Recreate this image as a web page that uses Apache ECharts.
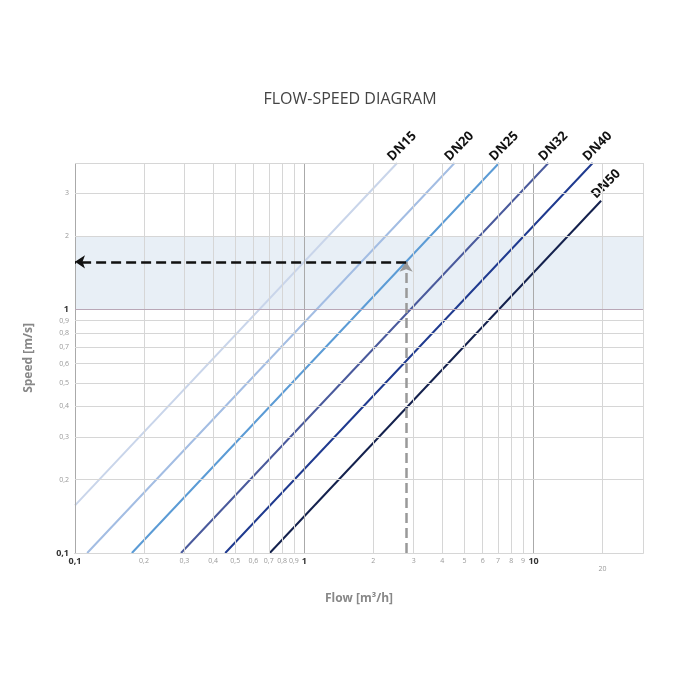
<!DOCTYPE html>
<html><head><meta charset="utf-8">
<script src="https://cdn.jsdelivr.net/npm/echarts@6/dist/echarts.min.js"></script>
<style>html,body{margin:0;background:#fff}#c{width:700px;height:700px}</style>
</head><body><div id="c"></div>
<script>
// data
const seriesNames = ['DN15','DN20','DN25','DN32','DN40','DN50'];
const lineStart = [[0.1,0.157],[0.113,0.1],[0.177,0.1],[0.29,0.1],[0.452,0.1],[0.707,0.1]];
const lineEnd = [[2.54,4],[4.52,4],[7.07,4],[11.6,4],[18.1,4],[19.7,2.8]];
const lineColors = ['#c9d5ea','#a3bde3','#5b9bd5','#4a5a9c','#1f3a8f','#14214d'];
const xTicks = [0.1,0.2,0.3,0.4,0.5,0.6,0.7,0.8,0.9,1,2,3,4,5,6,7,8,9,10,20,30];
const yTicks = [0.1,0.2,0.3,0.4,0.5,0.6,0.7,0.8,0.9,1,2,3,4];
const shadeBand = [1,2];
const readFlow = 2.78, readSpeed = 1.57;
const X0=0.1,X1=30,Y0=0.1,Y1=4;

const fmt = v => String(v).replace('.',',');
const major = v => v===0.1||v===1||v===10;

const grid = [];
xTicks.forEach(v=>{
  grid.push([{coord:[v,Y0],lineStyle:{type:'solid',color: major(v)?'#aaa':'#d6d6d6',width:1},
    label:{show:v!==X1,formatter:fmt(v),position:'start',distance: v===20?12:4,fontSize: major(v)?9:7,
      fontWeight: major(v)?'bold':'normal',color: major(v)?'#333':'#999'}},{coord:[v,Y1]}]);
});
yTicks.forEach(v=>{
  grid.push([{coord:[X0,v],lineStyle:{type:'solid',color: v===1?'#b9a7b7':'#d6d6d6',width:1},
    label:{show:v!==Y1,formatter:fmt(v),position:'start',distance:6,fontSize: major(v)?9:7,
      fontWeight: major(v)?'bold':'normal',color: major(v)?'#333':'#999'}},{coord:[X1,v]}]);
});

const series = [{
  type:'line',data:[],silent:true,
  markLine:{symbol:'none',silent:true,animation:false,lineStyle:{type:'solid'},data:grid},
  markArea:{silent:true,itemStyle:{color:'rgba(214,226,238,0.55)'},data:[[{yAxis:shadeBand[0]},{yAxis:shadeBand[1]}]]}
}];
seriesNames.forEach((n,i)=>{
  series.push({type:'line',name:n,symbol:'none',animation:false,
    lineStyle:{color:lineColors[i],width:2},
    endLabel:{show:true,formatter:n,rotate:45,offset: i===5?[-8,-14]:[-8,-14],
      fontWeight:'bold',fontSize:13,color:'#111',fontFamily:'Open Sans'},
    data:[lineStart[i],lineEnd[i]]});
});
series.push({type:'line',data:[],markLine:{silent:true,animation:false,symbol:['none','arrow'],symbolSize:10,data:[
  [{coord:[readFlow,Y0],lineStyle:{color:'#999',type:'dashed',width:2.5}},{coord:[readFlow,readSpeed],itemStyle:{color:'#999'}}],
  [{coord:[readFlow,readSpeed],lineStyle:{color:'#111',type:'dashed',width:2.5}},{coord:[X0,readSpeed],itemStyle:{color:'#111'}}]
],label:{show:false}}});

const chart = echarts.init(document.getElementById('c'));
chart.setOption({
  animation:false,
  textStyle:{fontFamily:'Open Sans'},
  title:{text:'FLOW-SPEED DIAGRAM',left:'center',top:86,textStyle:{fontSize:16,fontWeight:'normal',color:'#444',fontFamily:'Open Sans'}},
  grid:{left:75,right:57,top:163,bottom:147},
  xAxis:{type:'log',min:X0,max:X1,logBase:10,axisLabel:{show:false},axisTick:{show:false},splitLine:{show:false},
    axisLine:{lineStyle:{color:'#aaa'}},name:'Flow [m³/h]',nameLocation:'middle',nameGap:40,
    nameTextStyle:{fontSize:12,fontWeight:'bold',color:'#888'}},
  yAxis:{type:'log',min:Y0,max:Y1,logBase:10,axisLabel:{show:false},axisTick:{show:false},splitLine:{show:false},
    axisLine:{show:false},name:'Speed [m/s]',nameLocation:'middle',nameGap:40,
    nameTextStyle:{fontSize:12,fontWeight:'bold',color:'#888'}},
  series
});
</script></body></html>
